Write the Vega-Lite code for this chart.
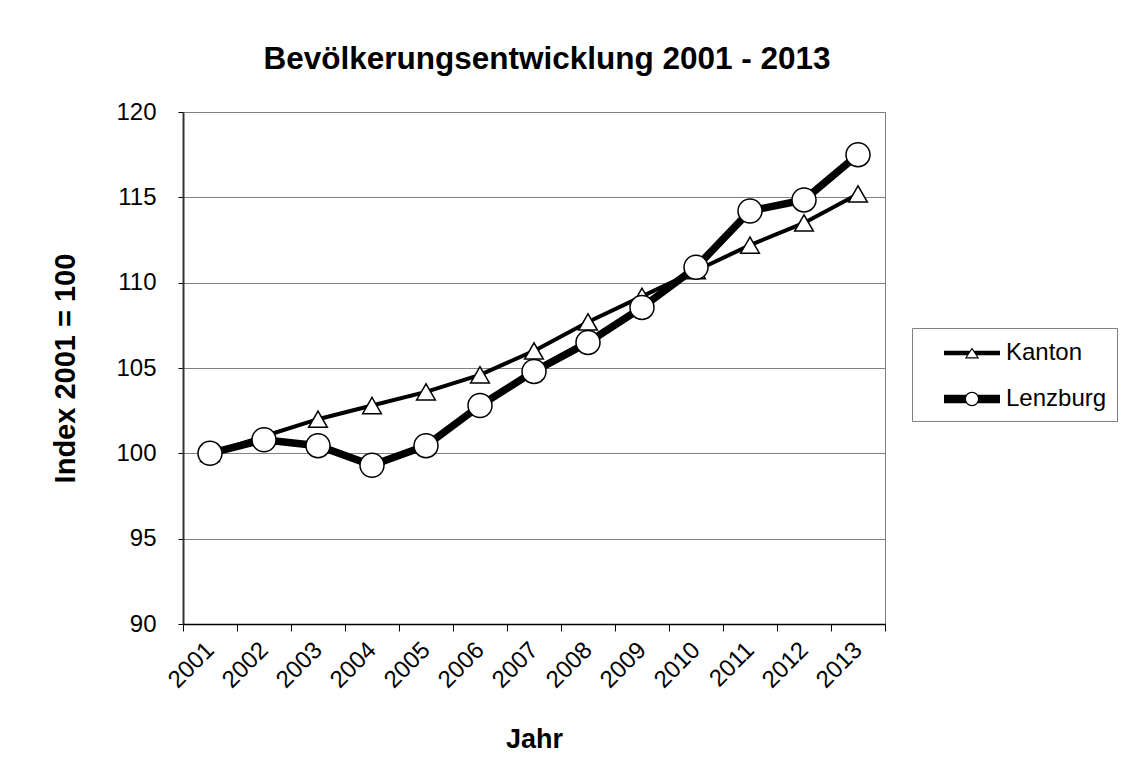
{
  "$schema": "https://vega.github.io/schema/vega-lite/v6.json",
  "autosize": {"type": "none"},
  "padding": {"left": 183, "top": 112, "right": 260, "bottom": 138},
  "width": 702,
  "height": 512,
  "background": "white",
  "title": {
    "text": "Bevölkerungsentwicklung 2001 - 2013",
    "font": "Liberation Sans",
    "fontSize": 31.5,
    "fontWeight": "bold",
    "color": "black",
    "anchor": "middle",
    "frame": "group",
    "baseline": "alphabetic",
    "offset": 0,
    "dx": 13
  },
  "config": {
    "font": "Liberation Sans",
    "view": {"stroke": "#808080", "strokeWidth": 1},
    "axis": {
      "labelFont": "Liberation Sans",
      "titleFont": "Liberation Sans",
      "labelColor": "black",
      "titleColor": "black",
      "labelFontSize": 24,
      "titleFontSize": 29,
      "titleFontWeight": "bold",
      "domainColor": "black",
      "tickColor": "black"
    }
  },
  "data": {
    "values": [
      {"Jahr": "2001", "Serie": "Kanton", "Index": 100},
      {"Jahr": "2002", "Serie": "Kanton", "Index": 101.0},
      {"Jahr": "2003", "Serie": "Kanton", "Index": 102.0},
      {"Jahr": "2004", "Serie": "Kanton", "Index": 102.8},
      {"Jahr": "2005", "Serie": "Kanton", "Index": 103.6},
      {"Jahr": "2006", "Serie": "Kanton", "Index": 104.6},
      {"Jahr": "2007", "Serie": "Kanton", "Index": 106.0},
      {"Jahr": "2008", "Serie": "Kanton", "Index": 107.7},
      {"Jahr": "2009", "Serie": "Kanton", "Index": 109.2},
      {"Jahr": "2010", "Serie": "Kanton", "Index": 110.7},
      {"Jahr": "2011", "Serie": "Kanton", "Index": 112.2},
      {"Jahr": "2012", "Serie": "Kanton", "Index": 113.5},
      {"Jahr": "2013", "Serie": "Kanton", "Index": 115.2},
      {"Jahr": "2001", "Serie": "Lenzburg", "Index": 100},
      {"Jahr": "2002", "Serie": "Lenzburg", "Index": 100.8},
      {"Jahr": "2003", "Serie": "Lenzburg", "Index": 100.45},
      {"Jahr": "2004", "Serie": "Lenzburg", "Index": 99.3},
      {"Jahr": "2005", "Serie": "Lenzburg", "Index": 100.45},
      {"Jahr": "2006", "Serie": "Lenzburg", "Index": 102.8},
      {"Jahr": "2007", "Serie": "Lenzburg", "Index": 104.8},
      {"Jahr": "2008", "Serie": "Lenzburg", "Index": 106.5},
      {"Jahr": "2009", "Serie": "Lenzburg", "Index": 108.55},
      {"Jahr": "2010", "Serie": "Lenzburg", "Index": 110.9},
      {"Jahr": "2011", "Serie": "Lenzburg", "Index": 114.2},
      {"Jahr": "2012", "Serie": "Lenzburg", "Index": 114.85},
      {"Jahr": "2013", "Serie": "Lenzburg", "Index": 117.5}
    ]
  },
  "encoding": {
    "x": {
      "field": "Jahr",
      "type": "ordinal",
      "scale": {"type": "band", "paddingInner": 0, "paddingOuter": 0},
      "axis": {
        "title": "Jahr",
        "titleFontSize": 27,
        "labelAngle": -45,
        "labelAlign": "right",
        "labelBaseline": "middle",
        "labelPadding": 15,
        "tickBand": "extent",
        "tickSize": 7,
        "domainWidth": 1.5,
        "grid": false,
        "titlePadding": 34
      }
    },
    "y": {
      "field": "Index",
      "type": "quantitative",
      "scale": {"domain": [90, 120], "nice": false, "zero": false},
      "axis": {
        "title": "Index 2001 = 100",
        "values": [90, 95, 100, 105, 110, 115, 120],
        "grid": true,
        "gridColor": "#808080",
        "gridWidth": 1,
        "domainWidth": 2,
        "domainColor": "#333333",
        "tickSize": 5,
        "labelPadding": 22,
        "titlePadding": 35
      }
    }
  },
  "layer": [
    {
      "transform": [{"filter": "datum.Serie === 'Kanton'"}],
      "mark": {"type": "line", "color": "black", "strokeWidth": 4}
    },
    {
      "transform": [{"filter": "datum.Serie === 'Kanton'"}],
      "mark": {"type": "point", "shape": "triangle-up", "size": 350, "filled": true, "fill": "white", "stroke": "black", "strokeWidth": 1.5, "opacity": 1}
    },
    {
      "transform": [{"filter": "datum.Serie === 'Lenzburg'"}],
      "mark": {"type": "line", "color": "black", "strokeWidth": 7.5}
    },
    {
      "transform": [{"filter": "datum.Serie === 'Lenzburg'"}],
      "mark": {"type": "point", "shape": "circle", "size": 576, "filled": true, "fill": "white", "stroke": "black", "strokeWidth": 1.5, "opacity": 1}
    },
    {
      "mark": {"type": "point", "filled": true, "color": "black", "opacity": 0, "size": 900},
      "encoding": {
        "shape": {
          "field": "Serie",
          "type": "nominal",
          "scale": {
            "domain": ["Kanton", "Lenzburg"],
            "range": [
              "M-1.867,-0.149 L-0.142,-0.149 L-0.338,0.149 L-1.867,0.149 Z M0.142,-0.149 L1.867,-0.149 L1.867,0.149 L0.338,0.149 Z M0,-0.366 L0.48,0.366 L-0.48,0.366 Z M0,-0.23 L-0.342,0.291 L0.342,0.291 Z",
              "M-1.867,-0.28 L-0.392,-0.28 L-0.392,0.28 L-1.867,0.28 Z M0.392,-0.28 L1.867,-0.28 L1.867,0.28 L0.392,0.28 Z M0.48,0 C0.48,0.265 0.265,0.48 0,0.48 C-0.265,0.48 -0.48,0.265 -0.48,0 C-0.48,-0.265 -0.265,-0.48 0,-0.48 C0.265,-0.48 0.48,-0.265 0.48,0 Z M0.396,0 C0.396,-0.218 0.218,-0.396 0,-0.396 C-0.218,-0.396 -0.396,-0.218 -0.396,0 C-0.396,0.218 -0.218,0.396 0,0.396 C0.218,0.396 0.396,0.218 0.396,0 Z"
            ]
          },
          "legend": {
            "title": null,
            "orient": "none",
            "legendX": 729,
            "legendY": 216,
            "padding": 10,
            "strokeColor": "#808080",
            "symbolSize": 900,
            "symbolOffset": 35,
            "labelOffset": 19,
            "labelFont": "Liberation Sans",
            "labelFontSize": 24,
            "labelColor": "black",
            "rowPadding": 19,
            "symbolOpacity": 1,
            "symbolFillColor": "black",
            "symbolStrokeWidth": 0,
            "encode": {
              "symbols": {"update": {"opacity": {"value": 1}, "fill": {"value": "black"}, "strokeWidth": {"value": 0}}}
            }
          }
        }
      }
    }
  ]
}
